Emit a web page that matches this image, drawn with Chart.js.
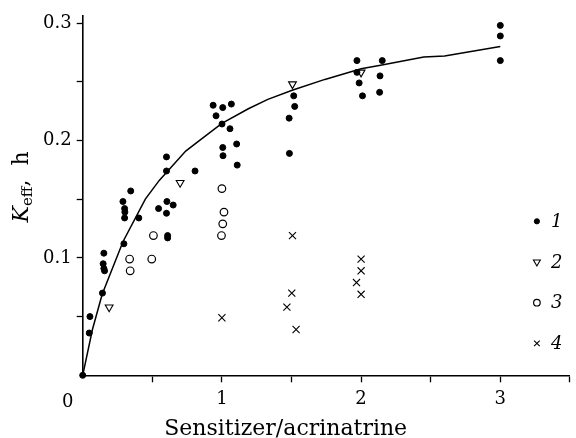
<!DOCTYPE html>
<html>
<head>
<meta charset="utf-8">
<script src="https://cdn.jsdelivr.net/npm/chart.js@4.4.1/dist/chart.umd.min.js"></script>
<style>
  html, body { margin: 0; padding: 0; background: #fff; }
  canvas { display: block; }
</style>
</head>
<body>
<canvas id="my-chart" width="576" height="438"></canvas>
<script>
// fitted curve
const curveX = [0, 0.07, 0.14, 0.29, 0.45, 0.55, 0.74, 0.84, 1.0, 1.19, 1.33, 1.51, 1.74, 2.0, 2.14, 2.45, 2.6, 3.0];
const curveY = [0, 0.039, 0.069, 0.114, 0.150, 0.166, 0.191, 0.200, 0.2145, 0.227, 0.235, 0.243, 0.252, 0.261, 0.264, 0.271, 0.272, 0.280];

// series 1 (filled dots)
const s1X = [0, 0.047, 0.052, 0.142, 0.152, 0.147, 0.152, 0.157, 0.296, 0.289, 0.301, 0.303, 0.301, 0.345, 0.403,
  0.545, 0.602, 0.602, 0.605, 0.602, 0.650, 0.61, 0.61, 0.807,
  0.937, 1.006, 1.068, 0.958, 1.001, 1.058, 1.006, 1.106, 1.008, 1.11,
  1.516, 1.523, 1.483, 1.485,
  1.97, 1.97, 1.986, 2.01, 2.152, 2.136, 2.133,
  3.0, 3.0, 3.0];
const s1Y = [0, 0.036, 0.050, 0.070, 0.104, 0.095, 0.091, 0.089, 0.112, 0.148, 0.142, 0.139, 0.134, 0.157, 0.134,
  0.142, 0.186, 0.174, 0.148, 0.138, 0.145, 0.119, 0.117, 0.174,
  0.230, 0.228, 0.231, 0.221, 0.214, 0.210, 0.194, 0.197, 0.187, 0.179,
  0.238, 0.229, 0.219, 0.189,
  0.268, 0.258, 0.249, 0.238, 0.268, 0.255, 0.241,
  0.298, 0.289, 0.268];

// series 2 (triangles)
const s2X = [0.19, 0.70, 1.507, 2.0];
const s2Y = [0.058, 0.164, 0.248, 0.258];

// series 3 (open circles)
const s3X = [0.337, 0.341, 0.496, 0.508, 1.0, 1.015, 1.006, 0.997];
const s3Y = [0.099, 0.089, 0.099, 0.119, 0.159, 0.139, 0.129, 0.119];

// series 4 (crosses)
const s4X = [1.0, 1.507, 1.502, 1.467, 1.533, 2.0, 2.0, 1.967, 2.0];
const s4Y = [0.049, 0.119, 0.070, 0.058, 0.039, 0.099, 0.089, 0.079, 0.069];

const seriesNames = ['1', '2', '3', '4'];
const xTickLabels = [1, 2, 3];
const yTickLabels = [0.1, 0.2, 0.3];
const xTitle = 'Sensitizer/acrinatrine';

const serif = '"DejaVu Serif", serif';

function pts(xs, ys) {
  return xs.map((x, i) => ({ x: x, y: ys[i] }));
}
function near(v, list) {
  return list.some(t => Math.abs(t - v) < 1e-6);
}

const pointSets = [
  { pointStyle: 'circle', radius: 3, rotation: 0, borderWidth: 1, fill: true },
  { pointStyle: 'triangle', radius: 4.5, rotation: 180, borderWidth: 1.1, fill: false },
  { pointStyle: 'circle', radius: 3.8, rotation: 0, borderWidth: 1.2, fill: false },
  { pointStyle: 'crossRot', radius: 5, rotation: 0, borderWidth: 1.1, fill: false }
];

const seriesData = [pts(s1X, s1Y), pts(s2X, s2Y), pts(s3X, s3Y), pts(s4X, s4Y)];

const datasets = seriesData.map((d, i) => ({
  label: seriesNames[i],
  data: d,
  showLine: false,
  clip: false,
  pointStyle: pointSets[i].pointStyle,
  pointRadius: pointSets[i].radius,
  pointRotation: pointSets[i].rotation,
  pointBorderWidth: pointSets[i].borderWidth,
  pointBorderColor: '#000',
  pointBackgroundColor: pointSets[i].fill ? '#000' : '#fff'
}));

datasets.push({
  label: 'fit',
  data: pts(curveX, curveY),
  showLine: true,
  clip: false,
  borderColor: '#000',
  borderWidth: 1.5,
  pointRadius: 0,
  tension: 0
});

const textPlugin = {
  id: 'texts',
  afterDraw(chart) {
    const ctx = chart.ctx;
    const area = chart.chartArea;
    ctx.save();
    ctx.fillStyle = '#000';
    ctx.strokeStyle = '#000';

    // corner "0"
    ctx.font = '18px ' + serif;
    ctx.textAlign = 'center';
    ctx.textBaseline = 'alphabetic';
    ctx.fillText('0', area.left - 15, area.bottom + 32);

    // x axis title
    ctx.font = '22px ' + serif;
    ctx.fillText(xTitle, area.left + 203, 435);

    // y axis title  K_eff, h
    ctx.translate(28, 187);
    ctx.rotate(-Math.PI / 2);
    ctx.textAlign = 'left';
    const fK = 'italic 22px ' + serif;
    const fSub = '15px ' + serif;
    const fN = '22px ' + serif;
    ctx.font = fK; const wK = ctx.measureText('K').width;
    ctx.font = fSub; const wSub = ctx.measureText('eff').width;
    ctx.font = fN; const wRest = ctx.measureText(',  h').width;
    let x0 = -(wK + wSub + wRest) / 2;
    ctx.font = fK; ctx.fillText('K', x0, 0); x0 += wK;
    ctx.font = fSub; ctx.fillText('eff', x0, 4); x0 += wSub;
    ctx.font = fN; ctx.fillText(',  h', x0, 0);
    ctx.restore();

    // legend
    ctx.save();
    ctx.font = 'italic 18px ' + serif;
    ctx.textBaseline = 'middle';
    ctx.textAlign = 'left';
    const top = area.bottom - 154;
    const gap = 40.7;
    for (let i = 0; i < seriesNames.length; i++) {
      const y = top + i * gap;
      const p = pointSets[i];
      ctx.fillStyle = p.fill ? '#000' : '#fff';
      ctx.strokeStyle = '#000';
      ctx.lineWidth = p.borderWidth;
      const r = i === 0 ? 2.6 : (i === 3 ? 4 : p.radius - 0.5);
      Chart.helpers.drawPoint(ctx, { pointStyle: p.pointStyle, radius: r, rotation: p.rotation, borderWidth: p.borderWidth }, area.right - 33, y);
      ctx.fillStyle = '#000';
      ctx.fillText(seriesNames[i], area.right - 19, y + 1);
    }
    ctx.restore();
  }
};

const ctx = document.getElementById('my-chart').getContext('2d');
const chart = new Chart(ctx, {
  type: 'scatter',
  data: { datasets: datasets },
  options: {
    responsive: false,
    animation: false,
    devicePixelRatio: 1,
    layout: { padding: { top: 16, right: 2, left: 0, bottom: 0 } },
    plugins: { legend: { display: false }, tooltip: { enabled: false } },
    scales: {
      x: {
        type: 'linear',
        min: 0,
        max: 3.5,
        afterFit: s => { s.height = 62.7; },
        border: { display: true, color: '#000', width: 1.6 },
        grid: {
          drawOnChartArea: false,
          drawTicks: true,
          tickLength: 7,
          tickWidth: 1.3,
          tickColor: c => (c.tick && c.tick.value === 0 ? 'rgba(0,0,0,0)' : '#000')
        },
        ticks: {
          stepSize: 0.5,
          includeBounds: false,
          autoSkip: false,
          maxRotation: 0,
          padding: 6,
          color: '#000',
          font: { family: serif, size: 18 },
          callback: v => (near(v, xTickLabels) ? String(v) : '')
        }
      },
      y: {
        type: 'linear',
        min: 0,
        max: 0.306,
        afterFit: s => { s.width = 82.7; },
        border: { display: true, color: '#000', width: 1.6 },
        grid: {
          drawOnChartArea: false,
          drawTicks: true,
          tickLength: 6,
          tickWidth: 1.3,
          tickColor: c => (c.tick && c.tick.value === 0 ? 'rgba(0,0,0,0)' : '#000')
        },
        ticks: {
          stepSize: 0.05,
          includeBounds: false,
          autoSkip: false,
          padding: 5,
          color: '#000',
          font: { family: serif, size: 18 },
          callback: v => (near(v, yTickLabels) ? v.toFixed(1) : '')
        }
      }
    }
  },
  plugins: [textPlugin]
});
</script>
</body>
</html>
